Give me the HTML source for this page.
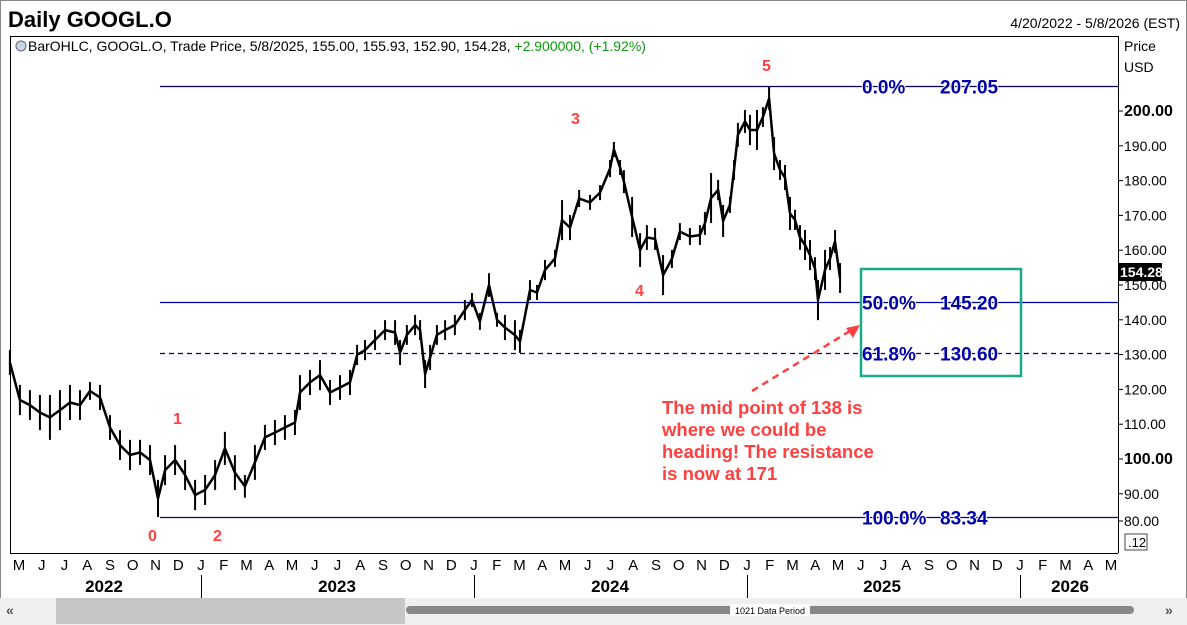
<!DOCTYPE html>
<html><head><meta charset="utf-8"><style>
body{margin:0;background:#fff;width:1187px;height:625px;overflow:hidden;font-family:"Liberation Sans",sans-serif}
svg{display:block}
</style></head><body>
<svg id="c" width="1187" height="625" font-family="Liberation Sans, sans-serif">
<rect x="0" y="0" width="1187" height="625" fill="#fff"/>
<rect x="0.5" y="0.5" width="1186" height="624" fill="none" stroke="#888"/>
<text x="8" y="27" font-size="22" font-weight="bold">Daily GOOGL.O</text>
<text x="1180" y="28" font-size="14" text-anchor="end">4/20/2022 - 5/8/2026 (EST)</text>
<line x1="10" y1="36.5" x2="1118" y2="36.5" stroke="#000"/>
<line x1="10.5" y1="36" x2="10.5" y2="553" stroke="#000"/>
<line x1="1118.5" y1="36" x2="1118.5" y2="553" stroke="#000"/>
<line x1="10" y1="553.5" x2="1118" y2="553.5" stroke="#000"/>
<circle cx="21" cy="46" r="5" fill="#c8d4e4" stroke="#667"/>
<text x="28" y="51" font-size="14">BarOHLC, GOOGL.O, Trade Price, 5/8/2025, 155.00, 155.93, 152.90, 154.28, <tspan fill="#119911">+2.900000, (+1.92%)</tspan></text>
<text x="1124" y="51" font-size="14">Price</text>
<text x="1124" y="72" font-size="14">USD</text>
<g id="yaxis"></g>
<g id="fib"></g>
<g id="bars"></g>
<g id="xaxis"></g>
<rect x="861" y="269" width="160" height="107" fill="none" stroke="#1aaa8a" stroke-width="2.5"/>
<g fill="#ff4040" font-size="16" font-weight="bold">
<text x="148" y="541">0</text>
<text x="173" y="424">1</text>
<text x="213" y="541">2</text>
<text x="571" y="124">3</text>
<text x="635" y="296">4</text>
<text x="762" y="71">5</text>
</g>
<g fill="#ff4040" font-size="18.5" font-weight="bold">
<text x="662" y="414">The mid point of 138 is</text>
<text x="662" y="436">where we could be</text>
<text x="662" y="458">heading! The resistance</text>
<text x="662" y="480">is now at 171</text>
</g>
<line x1="752" y1="391" x2="850" y2="331" stroke="#ff4040" stroke-width="2.5" stroke-dasharray="7,5"/>
<polygon points="860,325 846,328 853,338" fill="#ff4040"/>
<rect x="1118" y="263" width="44" height="18" fill="#000"/>
<text x="1120" y="277" font-size="14" font-weight="bold" fill="#fff">154.28</text>
<rect x="1125" y="534" width="22" height="16" fill="#fff" stroke="#444"/>
<text x="1128" y="547" font-size="13">.12</text>
<rect x="0" y="598" width="1187" height="27" fill="#efefef"/>
<rect x="406" y="606" width="728" height="8" rx="4" fill="#888"/>
<rect x="56" y="598" width="349" height="26" fill="#c6c6c6"/>
<rect x="730" y="604" width="80" height="12" fill="#fff"/>
<text x="770" y="614" font-size="9" text-anchor="middle">1021 Data Period</text>
<text x="6" y="615" font-size="14" font-weight="bold" fill="#555">«</text>
<text x="1165" y="615" font-size="14" font-weight="bold" fill="#555">»</text>
</svg>
<script>
const priceTicks=[80,90,100,110,120,130,140,150,160,170,180,190,200];
const months=["M","J","J","A","S","O","N","D","J","F","M","A","M","J","J","A","S","O","N","D","J","F","M","A","M","J","J","A","S","O","N","D","J","F","M","A","M","J","J","A","S","O","N","D","J","F","M","A","M"];
const years=["2022","2023","2024","2025","2026"];
const fibPct=["0.0%","50.0%","61.8%","100.0%"];
const fibVal=[207.05,145.20,130.60,83.34];
const t=[-0.40,0.04,0.48,0.92,1.36,1.80,2.24,2.68,3.12,3.56,4.00,4.44,4.88,5.32,5.76,6.11,6.42,6.86,7.30,7.74,8.18,8.62,9.05,9.49,9.93,10.37,10.81,11.25,11.69,12.13,12.35,12.79,13.23,13.67,14.11,14.55,14.86,15.21,15.65,16.09,16.53,16.75,17.05,17.41,17.63,17.85,18.07,18.37,18.73,19.16,19.60,19.91,20.26,20.66,21.01,21.36,21.80,22.02,22.46,22.77,23.12,23.56,23.87,24.22,24.62,25.10,25.54,25.98,26.15,26.42,26.59,26.95,27.30,27.60,27.96,28.31,28.70,29.05,29.49,29.93,30.15,30.42,30.73,30.95,31.25,31.43,31.60,31.91,32.13,32.44,32.70,32.97,33.19,33.45,33.67,33.89,34.11,34.33,34.55,34.77,34.99,35.12,35.43,35.65,35.87,36.09];
const hi=[131.3,121.3,119.8,118.4,118.4,119.8,121.3,119.8,122.1,121.3,112.6,108.3,105.5,105.5,104.0,94.0,101.1,104.0,99.7,94.0,95.4,99.7,107.8,101.1,95.4,104.0,109.8,111.2,112.6,114.1,124.1,125.6,128.4,122.7,124.1,125.6,132.8,134.2,137.1,139.9,139.9,134.2,138.5,141.4,139.9,128.4,132.8,138.5,139.9,141.4,145.7,147.7,142.0,153.4,142.0,141.4,139.9,137.1,151.4,150.0,157.2,160.1,174.4,170.1,177.3,175.9,178.7,185.9,191.1,185.9,183.0,175.3,164.9,167.2,166.4,158.6,160.1,167.8,166.4,167.2,171.0,182.2,180.2,173.0,175.3,185.9,196.6,200.3,198.9,200.3,201.1,206.9,192.5,185.9,184.5,175.3,171.6,167.2,165.8,162.9,158.0,151.4,160.1,160.9,165.8,156.3];
const lo=[124.1,112.6,111.2,108.3,105.5,108.3,111.2,111.2,117.0,114.1,105.5,99.7,96.8,98.3,95.4,83.3,92.5,95.4,91.1,85.3,86.8,91.1,98.3,91.1,88.9,94.0,102.6,104.0,105.5,106.9,114.1,118.4,119.8,115.5,117.0,118.4,127.0,128.4,131.3,134.2,132.8,127.0,132.8,135.6,134.2,120.4,125.6,132.8,134.2,135.6,139.9,143.7,137.1,146.6,138.0,134.2,131.3,130.5,145.7,145.7,151.4,155.2,162.9,162.9,172.4,171.6,174.4,181.0,186.8,181.6,176.4,163.8,155.2,160.1,160.1,147.1,154.9,162.9,161.5,161.5,164.4,167.8,174.4,163.8,170.7,180.2,189.7,193.7,190.2,188.8,195.4,200.3,183.0,180.2,177.3,165.8,165.8,160.1,157.2,154.3,151.4,139.9,148.6,154.3,159.2,147.7];

const NS="http://www.w3.org/2000/svg";
function yS(p){return 111+(200-p)*3.48;}
function xS(m){return 19+m*22.75;}
function mk(tag,attrs,parent){const e=document.createElementNS(NS,tag);for(const k in attrs)e.setAttribute(k,attrs[k]);parent.appendChild(e);return e;}
const yg=document.getElementById('yaxis');
priceTicks.forEach(p=>{
  const y=Math.min(yS(p),521);
  const tk=mk('line',{x1:1118,x2:1123,y1:y,y2:y,stroke:'#000'},yg);
  
  
  const tx=mk('text',{x:1124,y:y+5,'font-size':(p%100===0)?16:14,'font-weight':(p%100===0)?'bold':'normal'},yg);
  tx.textContent=p.toFixed(2);
  
  
});
const fg=document.getElementById('fib');
const fibColor=["#000066","#0000aa","#000066","#0000aa"];
fibVal.forEach((v,i)=>{
  const y=Math.round(yS(v))+0.5;
  const ln=mk('line',{x1:160,x2:1118,y1:y,y2:y,stroke:fibColor[i],'stroke-width':1.2},fg);
  if(i===2)ln.setAttribute('stroke-dasharray','5,4');
  
  
  const a=mk('text',{x:862,y:y+7,'font-size':19,'font-weight':'bold',fill:'#0000aa',stroke:'#fff','stroke-width':2,'paint-order':'stroke'},fg);
  a.textContent=fibPct[i];
  
  
  const b=mk('text',{x:940,y:y+7,'font-size':19,'font-weight':'bold',fill:'#0000aa',stroke:'#fff','stroke-width':2,'paint-order':'stroke'},fg);
  b.textContent=fibVal[i].toFixed(2);
  
  
});
const bg2=document.getElementById('bars');
let pts=[];
for(let i=0;i<t.length;i++){
  const x=xS(t[i]);
  pts.push(x.toFixed(1)+','+((yS(hi[i])+yS(lo[i]))/2).toFixed(1));
  const r=mk('line',{x1:x,x2:x,y1:yS(hi[i]),y2:yS(lo[i]),stroke:'#000','stroke-width':2},bg2);
  
  
}
const pl=mk('polyline',{points:pts.join(' '),fill:'none',stroke:'#000','stroke-width':2.5,'stroke-linejoin':'round'},bg2);


const xg=document.getElementById('xaxis');
months.forEach((m,i)=>{
  const tx=mk('text',{x:xS(i),y:570,'font-size':15,'text-anchor':'middle'},xg);
  tx.textContent=m;
  
  
});
const yearX=[104,337,610,882,1070];
years.forEach((yv,i)=>{
  const tx=mk('text',{x:yearX[i],y:592,'font-size':17,'font-weight':'bold','text-anchor':'middle'},xg);
  tx.textContent=yv;
  
  
  if(i>0){
    const sx=xS(8+12*(i-1))+0.5;
    const l=mk('line',{x1:sx,x2:sx,y1:575,y2:598,stroke:'#000'},xg);
    
    
  }
});
</script>
</body></html>
